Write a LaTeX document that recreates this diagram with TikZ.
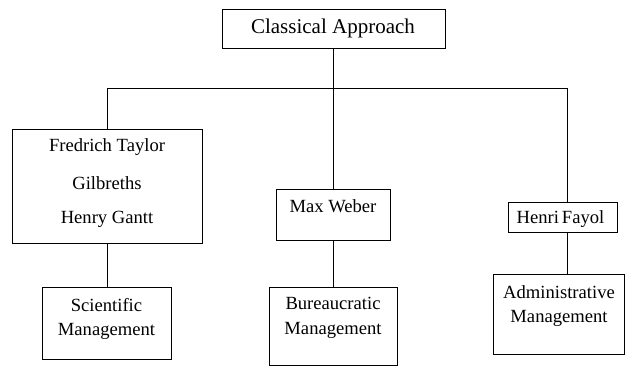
\documentclass[tikz,border=0pt]{standalone}
\usepackage{fontspec}
\setmainfont{Liberation Serif}
\begin{document}
\begin{tikzpicture}[x=1pt,y=-1pt,
  box/.style={draw=black, line width=0.9pt, rectangle, inner sep=0pt, anchor=north west},
  txt/.style={font=\fontsize{18.6}{22}\selectfont, inner sep=0pt, align=center},
  conn/.style={draw=black, line width=0.9pt}]
\useasboundingbox (0,0) rectangle (626,369);
% boxes
\node[box, minimum width=223pt, minimum height=39pt] (top) at (221.5,9) {};
\node[box, minimum width=190pt, minimum height=114pt] (tay) at (12,129) {};
\node[box, minimum width=129pt, minimum height=72pt] (sci) at (42,287) {};
\node[box, minimum width=114pt, minimum height=51pt] (web) at (276,189) {};
\node[box, minimum width=128pt, minimum height=78pt] (bur) at (269,287) {};
\node[box, minimum width=109pt, minimum height=30pt] (fay) at (508,202) {};
\node[box, minimum width=131pt, minimum height=80pt] (adm) at (493,274) {};
% texts
\node[txt, font=\fontsize{21}{24}\selectfont] (ttop) at (333,28) {Classical Approach};
\node[txt] (t1) at (107,147) {Fredrich Taylor};
\node[txt] (t2) at (107,183) {Gilbreths};
\node[txt] (t3) at (107,219) {Henry Gantt};
\node[txt] (t4) at (106.5,305) {Scientific};
\node[txt] (t5) at (106.5,331) {Management};
\node[txt] (t6) at (333,206) {Max Weber};
\node[txt] (t7) at (333,303) {Bureaucratic};
\node[txt] (t8) at (333,330) {Management};
\node[txt] (t9) at (560.5,219) {Henri\hspace{3pt}Fayol};
\node[txt] (t10) at (559,292) {Administrative};
\node[txt] (t11) at (559,318) {Management};
% connectors
\coordinate (j) at (333,88);
\coordinate (jl) at (107,88);
\coordinate (jr) at (567,88);
\draw[conn] (top.south) -- (web.north);
\draw[conn] (jl) -- (jr);
\draw[conn] (jl) -- (jl |- tay.north);
\draw[conn] (jr) -- (jr |- fay.north);
\draw[conn] (tay.south -| sci.north) -- (sci.north);
\draw[conn] (web.south) -- (web.south |- bur.north);
\draw[conn] (fay.south -| jr) -- (adm.north -| jr);
\end{tikzpicture}
\end{document}
